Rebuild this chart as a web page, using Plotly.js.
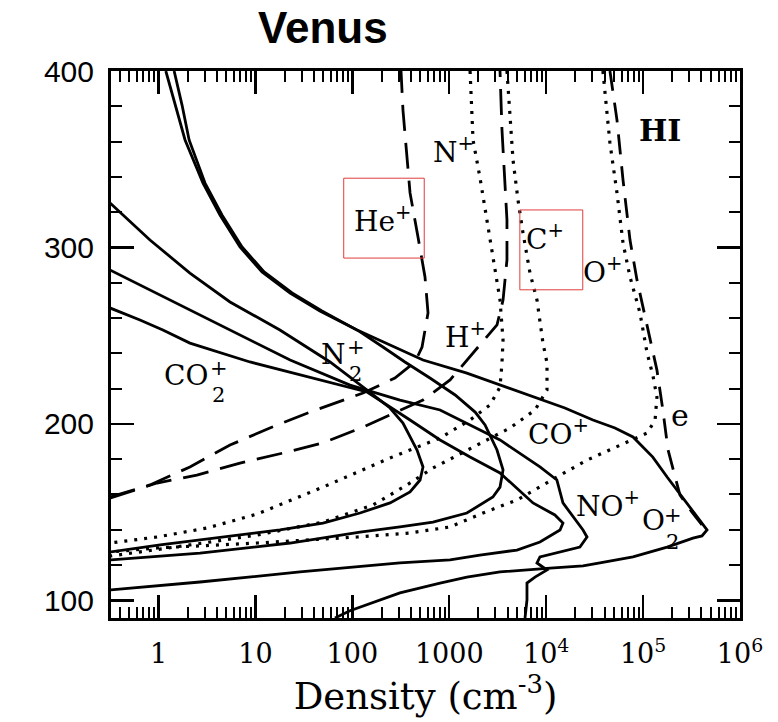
<!DOCTYPE html>
<html>
<head>
<meta charset="utf-8">
<script src="https://cdn.plot.ly/plotly-3.0.1.min.js"></script>
<style>html,body{margin:0;padding:0;background:#fff;}#chart{width:778px;height:722px;}</style>
</head>
<body>
<div id="chart"></div>
<script>
// ---- data (density cm^-3, altitude km) ----
const n_O2p = [1.19,1.48,1.88,2.88,4.31,6.93,11.7,22.8,46.3,112,245,536,1520,3340,7310,15600,30400,51300,78700,126000,177000,224000,305000,386000,457000,405000,327000,177000,78700,35900,24000,11000,3340,1520,804,310,152,94.6,66.2];
const z_O2p = [400,380.7,360.9,336.5,318.4,300.3,286.1,274.2,264.0,253.2,244.7,236.2,228.8,222.0,215.2,209.0,202.2,197.7,192.6,181.2,169.9,162.5,152.3,145.5,139.9,136.5,135.3,130.2,124.6,121.2,119.5,118.3,116.1,113.2,109.8,104.2,98.1,94.1,90.0];

const n_COp = [1.45,1.75,2.07,3.02,4.52,7.28,12.3,23.9,48.6,117,207,349,632,1150,1850,2340,3110,3590,3340,2820,1520,679,310,120,22.8,2.68,0.316];
const z_COp = [400,380.7,360.9,336.5,318.4,300.3,286.1,274.2,264.0,252.6,243.6,235.1,226.0,216.4,206.7,199.4,185.2,173.9,164.2,158.6,149.5,144.4,141.6,138.7,132.5,126.8,122.9];

const n_CO2p = [0.316,0.644,1.11,2.11,8.79,28.8,142,394,804,1640,3340,7310,12300,14900,13900,8630,5000,2070,1020,310,28.8,2.68,0.644,0.316];
const z_CO2p = [265.7,258.9,253.2,245.8,235.1,227.7,218.1,202.2,190.9,181.2,172.2,155.2,148.4,143.8,139.9,133.1,128.5,125.7,122.9,121.2,116.1,110.4,107.6,105.9];

const n_NOp = [0.316,0.817,2.11,4.63,22.8,94.6,310,804,3340,8630,12900,14900,24000,26400,22300,8630,8040,10200,7670,6340,6340,6050];
const z_NOp = [287.2,275.9,264.6,254.9,236.2,222.0,213.5,207.9,190.9,175.6,168.2,155.2,139.9,135.9,130.2,124.6,121.2,117.2,113.2,109.8,100.2,90];

const n_N2p = [0.316,0.817,2.11,5.47,17.9,58.9,142,245,333,465,536,500,394,245,120,49.8,17.9,4.63,1.04,0.316];
const z_N2p = [325.2,304.2,285.5,269.1,253.2,235.1,219.2,209.0,200.5,185.2,175.6,168.2,161.4,155.2,149.5,143.8,139.9,135.9,131.4,127.4];

const n_Hep = [0.316,0.817,2.11,5.47,14.1,36.6,129,275,444,524,604,562,476,394,333,318];
const z_Hep = [158.6,165.4,175.6,188.0,197.7,206.7,217.5,226.0,235.1,243.6,262.9,283.3,305.9,330.9,377.9,400];

const n_Hp = [0.316,0.966,2.49,6.93,19.3,49.8,129,310,536,1020,2070,3110,3590,3940,3940,3760,3500,3340];
const z_Hp = [158.0,166.5,171.0,177.8,183.5,189.2,198.2,207.9,213.5,224.9,244.7,256.1,270.2,292.9,315.6,338.2,366.6,400];

const n_Np = [1640,1760,2070,2450,2820,3340,3590,3500,3340,2630,1640,804,245,49.8,10.4,3.17,0.966,0.316];
const z_Np = [400,360.9,339.9,315.6,292.9,270.2,247.6,234.5,220.9,210.7,202.2,192.0,180.7,164.2,148.9,141.0,135.9,132.5];

const n_Cp = [3940,4550,5120,5770,6810,8040,9270,10200,10200,7670,4240,1520,679,366,163,49.8,10.4,2.11,0.316];
const z_Cp = [400,349.6,326.9,308.2,285.5,270.2,245.8,234.5,219.2,207.9,197.7,185.2,175.0,165.4,154.0,144.4,137.0,131.4,125.1];

const n_Op = [38500,45500,53800,62100,73300,92900,110000,126000,139000,133000,110000,53800,26400,12900,8630,5000,2230,1020,394,112,10.4,0.966,0.316];
const z_Op = [400,359.2,330.9,302.5,283.3,262.9,240.2,227.7,215.2,202.2,194.8,186.9,179.5,169.9,164.2,156.9,149.5,141.6,138.2,135.9,132.5,129.7,127.4];

const n_e = [45500,53800,62100,73300,86500,110000,139000,160000,181000,240000,318000,405000];
const z_e = [400,372.2,338.2,304.2,281.6,256.1,230.5,207.9,185.2,159.7,150.1,142.7];

const xTickVals = [1,10,100,1000,1e4,1e5,1e6];
const xTickText = ['1','10','100','1000','10<sup>4</sup>','10<sup>5</sup>','10<sup>6</sup>'];
const yTickVals = [100,200,300,400];

// labels: [text, x(paper), y(paper), size, bold]
const labels = [
  ['HI',0.873,0.892,30,true],
  ['N<sup>+</sup>',0.544,0.854,28,false],
  ['He<sup>+</sup>',0.432,0.728,28,false],
  ['C<sup>+</sup>',0.690,0.695,28,false],
  ['O<sup>+</sup>',0.782,0.636,28,false],
  ['H<sup>+</sup>',0.563,0.517,28,false],
  ['N',0.353,0.481,28,false],
  ['+<br>2',0.389,0.470,21,false],
  ['CO',0.119,0.444,28,false],
  ['+<br>2',0.172,0.433,21,false],
  ['CO<sup>+</sup>',0.711,0.340,28,false],
  ['e',0.905,0.371,30,false],
  ['NO<sup>+</sup>',0.790,0.207,28,false],
  ['O',0.863,0.179,28,false],
  ['+<br>2',0.893,0.164,21,false]
];

// ---- styling ----
const solid = {color:'#000', width:2.8};
const dotted = {color:'#000', width:3.2, dash:'3px,7px'};
const ldash = {color:'#000', width:2.8, dash:'26px,12px'};

function tr(x,y,line,name){return {x:x,y:y,mode:'lines',line:line,name:name,hoverinfo:'name',showlegend:false};}

const traces = [
  tr(n_O2p,z_O2p,solid,'O2+'),
  tr(n_COp,z_COp,solid,'CO+'),
  tr(n_CO2p,z_CO2p,solid,'CO2+'),
  tr(n_NOp,z_NOp,solid,'NO+'),
  tr(n_N2p,z_N2p,solid,'N2+'),
  tr(n_Hep,z_Hep,ldash,'He+'),
  tr(n_Hp,z_Hp,ldash,'H+'),
  tr(n_Np,z_Np,dotted,'N+'),
  tr(n_Cp,z_Cp,dotted,'C+'),
  tr(n_Op,z_Op,dotted,'O+'),
  tr(n_e,z_e,{color:'#000',width:2.8,dash:'20px,12px'},'e'),
  // invisible trace that carries the minor-tick overlay axes
  {x:[1],y:[200],xaxis:'x2',yaxis:'y2',mode:'markers',marker:{opacity:0},hoverinfo:'skip',showlegend:false}
];

const minorX = [];
for (let d=-1; d<6; d++) for (let k=2;k<10;k++){ const v=k*Math.pow(10,d); if (v>0.32 && v<1e6) minorX.push(v); }
const minorY = [];
for (let v=100; v<400; v+=20) if (v%100) minorY.push(v);

const annotations = labels.map(l=>({text:l[0],x:l[1],y:l[2],xref:'paper',yref:'paper',showarrow:false,
  xanchor:'center',yanchor:'middle',align:'center',
  font:{family:'DejaVu Serif',size:l[3],color:'#000',weight:l[4]?'bold':'normal'}}));

const shapes = [
  {type:'rect',xref:'paper',yref:'paper',x0:0.370,x1:0.498,y0:0.658,y1:0.804,line:{color:'#e03c3c',width:1}},
  {type:'rect',xref:'paper',yref:'paper',x0:0.650,x1:0.750,y0:0.600,y1:0.746,line:{color:'#e03c3c',width:1}}
];

const layout = {
  width:778,height:722,
  margin:{l:111,r:38,t:71,b:104},
  paper_bgcolor:'#fff',plot_bgcolor:'#fff',
  title:{text:'<b>Venus</b>',x:0.415,xref:'container',xanchor:'center',y:0.962,yanchor:'middle',
    font:{family:'Liberation Sans, Arial',size:44,color:'#000'}},
  xaxis:{type:'log',range:[-0.49,6.0],showgrid:false,zeroline:false,
    showline:true,linecolor:'#000',linewidth:3,mirror:'allticks',
    ticks:'inside',ticklen:23,tickwidth:2.5,tickcolor:'#000',
    tickmode:'array',tickvals:xTickVals,ticktext:xTickText,ticklabelstandoff:10,
    tickfont:{family:'DejaVu Serif',size:27,color:'#000'},
    title:{text:'Density (cm<sup>-3</sup>)',font:{family:'DejaVu Serif',size:37,color:'#000'},standoff:12}},
  yaxis:{range:[90,400],showgrid:false,zeroline:false,
    showline:true,linecolor:'#000',linewidth:3,mirror:'allticks',
    ticks:'inside',ticklen:23,tickwidth:2.5,tickcolor:'#000',
    tickmode:'array',tickvals:yTickVals,ticktext:yTickVals.map(String),ticklabelstandoff:8,
    tickfont:{family:'Liberation Sans, Arial',size:30,color:'#000'}},
  xaxis2:{type:'log',range:[-0.49,6.0],overlaying:'x',anchor:'y',side:'bottom',showgrid:false,zeroline:false,
    showline:false,mirror:'ticks',ticks:'inside',ticklen:11,tickwidth:2,tickcolor:'#000',
    tickmode:'array',tickvals:minorX,showticklabels:false},
  yaxis2:{range:[90,400],overlaying:'y',anchor:'x',side:'left',showgrid:false,zeroline:false,
    showline:false,mirror:'ticks',ticks:'inside',ticklen:11,tickwidth:2,tickcolor:'#000',
    tickmode:'array',tickvals:minorY,showticklabels:false},
  annotations:annotations,
  shapes:shapes,
  showlegend:false
};

Plotly.newPlot('chart',traces,layout,{displayModeBar:false,staticPlot:true});
</script>
</body>
</html>
